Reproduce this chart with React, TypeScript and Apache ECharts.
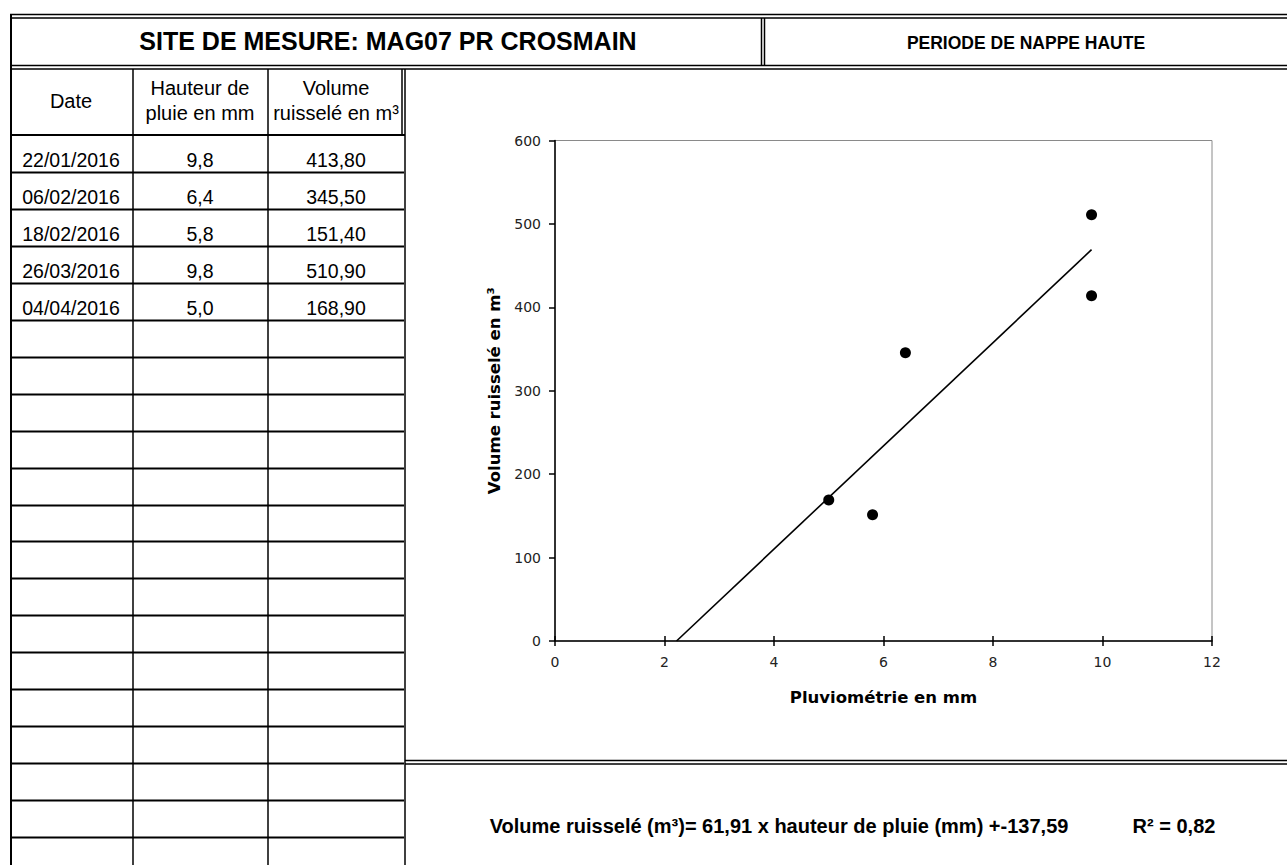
import React, { useEffect, useRef } from "react";
import * as echarts from "echarts";

// ---- Data ----
const siteTitle = "SITE DE MESURE: MAG07 PR CROSMAIN";
const periodTitle = "PERIODE DE NAPPE HAUTE";
const headerDate = ["Date"];
const headerRain = ["Hauteur de", "pluie en mm"];
const headerVolume = ["Volume", "ruisselé en m³"];
const dates = ["22/01/2016", "06/02/2016", "18/02/2016", "26/03/2016", "04/04/2016"];
const rainMm = [9.8, 6.4, 5.8, 9.8, 5.0];
const volumeM3 = [413.8, 345.5, 151.4, 510.9, 168.9];
const trendLine = [
  [2.22, 0],
  [9.8, 469.1],
];
const xAxisName = "Pluviométrie en mm";
const yAxisName = "Volume ruisselé en m³";
const equationText = "Volume ruisselé (m³)= 61,91 x hauteur de pluie (mm) +-137,59";
const r2Text = "R² = 0,82";
const emptyRowCount = 14;

const fr = (v: number, d: number) => v.toFixed(d).replace(".", ",");

export default function App() {
  const ref = useRef<HTMLDivElement>(null);
  useEffect(() => {
    if (!ref.current) return;
    const chart = echarts.init(ref.current, undefined, { renderer: "svg" });

    const W = 1287;
    const H = 865;
    const tableFont = "Liberation Sans, Arial, sans-serif";
    const chartFont = "DejaVu Sans, sans-serif";
    const lw = 1.5;
    const line = (x1: number, y1: number, x2: number, y2: number, w = lw) => ({
      type: "line",
      silent: true,
      shape: { x1, y1, x2, y2 },
      style: { stroke: "#000", lineWidth: w },
      z: 10,
    });
    const text = (
      t: string,
      x: number,
      y: number,
      size: number,
      bold = false,
      align = "center"
    ) => ({
      type: "text",
      silent: true,
      x,
      y,
      style: {
        text: t,
        fontSize: size,
        fontFamily: tableFont,
        fontWeight: bold ? "bold" : "normal",
        fill: "#000",
        textAlign: align,
        textVerticalAlign: "middle",
        align,
        verticalAlign: "middle",
      },
      z: 10,
    });

    const colX = [11, 133, 268, 404];
    const rowTop = 135;
    const rowH = 36.95;
    const totalRows = dates.length + emptyRowCount;
    const els: any[] = [];
    // outer frame
    els.push(line(10, 14.5, W, 14.5));
    els.push(line(10, 18, W, 18));
    els.push(line(10, 65.5, W, 65.5));
    els.push(line(10, 69, W, 69));
    els.push(line(11, 14, 11, H, 2));
    els.push(line(761.5, 18, 761.5, 65.5));
    els.push(line(764.5, 18, 764.5, 65.5));
    // table columns
    els.push(line(colX[1], 69, colX[1], H));
    els.push(line(colX[2], 69, colX[2], H));
    els.push(line(402, 69, 402, rowTop));
    els.push(line(405, 69, 405, H));
    // header bottom & row lines
    els.push(line(11, rowTop, 405, rowTop, 2));
    for (let k = 1; k <= totalRows; k++) {
      const y = Math.round(rowTop + rowH * k) + 0.5;
      if (y < H) els.push(line(11, y, 404, y, 2));
    }
    // lower box double line
    els.push(line(405, 760.5, W, 760.5));
    els.push(line(405, 764, W, 764));

    // titles
    els.push(text(siteTitle, 388, 41, 25, true));
    els.push(text(periodTitle, 1026, 42.5, 17.5, true));
    // headers
    els.push(text(headerDate[0], 71, 101, 20));
    els.push(text(headerRain[0], 200, 88, 20));
    els.push(text(headerRain[1], 200, 113, 20));
    els.push(text(headerVolume[0], 336, 88, 20));
    els.push(text(headerVolume[1], 336, 113, 20));
    // data rows
    dates.forEach((d, i) => {
      const cy = rowTop + rowH * i + 25;
      els.push(text(d, 71, cy, 19.5));
      els.push(text(fr(rainMm[i], 1), 200, cy, 19.5));
      els.push(text(fr(volumeM3[i], 2), 336, cy, 19.5));
    });
    // equation
    els.push(text(equationText, 779, 826, 20, true));
    els.push(text(r2Text, 1174, 826, 20, true));

    const labelStyle = { color: "#222", fontFamily: chartFont, fontSize: 14 };
    chart.setOption({
      animation: false,
      backgroundColor: "#fff",
      grid: {
        left: 555,
        top: 140.5,
        right: W - 1212,
        bottom: H - 641,
        show: true,
        borderColor: "#8a8a8a",
        borderWidth: 1,
      },
      xAxis: [
        {
          type: "value",
          min: 0,
          max: 12,
          interval: 2,
          name: xAxisName,
          nameLocation: "middle",
          nameGap: 48,
          nameTextStyle: { fontFamily: chartFont, fontWeight: "bold", fontSize: 16.5, color: "#000" },
          axisLine: { lineStyle: { color: "#000", width: 1.5 } },
          axisTick: { length: 5, lineStyle: { color: "#000", width: 1.5 } },
          axisLabel: { ...labelStyle, margin: 14 },
          splitLine: { show: false },
        },
        {
          type: "value",
          min: 0,
          max: 12,
          interval: 2,
          position: "bottom",
          offset: 0,
          axisLine: { show: false },
          axisTick: { inside: true, length: 5, lineStyle: { color: "#000", width: 1.5 } },
          axisLabel: { show: false },
          splitLine: { show: false },
        },
      ],
      yAxis: {
        type: "value",
        min: 0,
        max: 600,
        interval: 100,
        name: yAxisName,
        nameLocation: "middle",
        nameGap: 49,
        nameTextStyle: { fontFamily: chartFont, fontWeight: "bold", fontSize: 16.5, color: "#000" },
        axisLine: { show: true, lineStyle: { color: "#000", width: 1.5 } },
        axisTick: { show: true, length: 6, lineStyle: { color: "#000", width: 1.5 } },
        axisLabel: { ...labelStyle, margin: 14 },
        splitLine: { show: false },
      },
      graphic: els,
      series: [
        {
          type: "line",
          data: trendLine,
          xAxisIndex: 0,
          showSymbol: false,
          symbol: "none",
          lineStyle: { color: "#000", width: 1.6 },
          silent: true,
          z: 2,
        },
        {
          type: "scatter",
          xAxisIndex: 0,
          data: rainMm.map((r, i) => [r, volumeM3[i]]),
          symbol: "circle",
          symbolSize: 11,
          itemStyle: { color: "#000", opacity: 1 },
          z: 3,
        },
      ],
    });
    return () => chart.dispose();
  }, []);
  return (
    <div
      ref={ref}
      style={{ position: "fixed", left: 0, top: 0, width: 1287, height: 865, background: "#fff" }}
    />
  );
}
